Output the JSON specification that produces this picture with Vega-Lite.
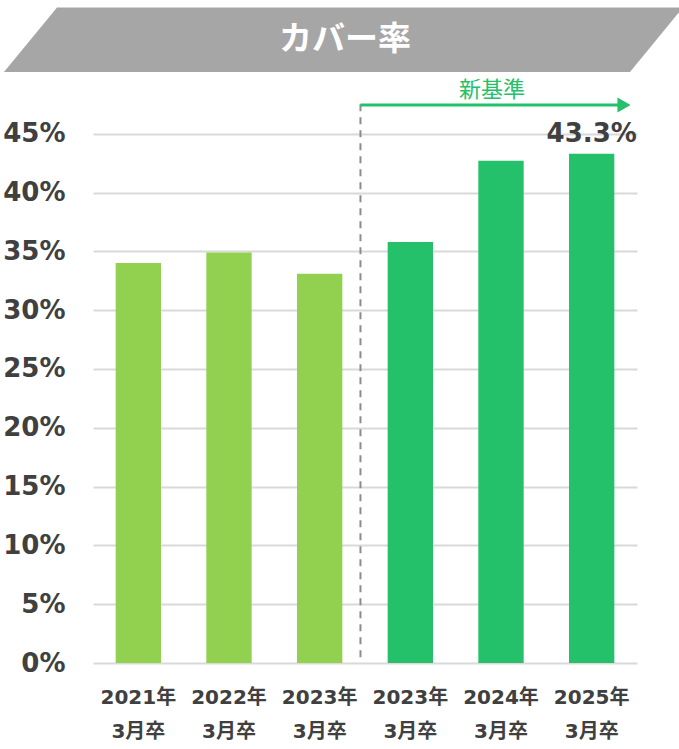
{
  "$schema": "https://vega.github.io/schema/vega-lite/v6.json",
  "width": 544,
  "height": 663,
  "autosize": {"type": "none"},
  "padding": {"left": 93, "top": 0, "right": 42, "bottom": 86},
  "background": "white",
  "config": {"view": {"stroke": null}},
  "layer": [
    {
      "data": {
        "values": [
          {"period": "2021年3月卒", "value": 0.340, "basis": "旧基準"},
          {"period": "2022年3月卒", "value": 0.349, "basis": "旧基準"},
          {"period": "2023年3月卒(旧)", "value": 0.331, "basis": "旧基準"},
          {"period": "2023年3月卒", "value": 0.358, "basis": "新基準"},
          {"period": "2024年3月卒", "value": 0.427, "basis": "新基準"},
          {"period": "2025年3月卒", "value": 0.433, "basis": "新基準"}
        ]
      },
      "encoding": {
        "x": {
          "field": "period",
          "type": "nominal",
          "sort": null,
          "scale": {"paddingInner": 0.5, "paddingOuter": 0.25},
          "axis": {
            "title": null,
            "labelAngle": 0,
            "domain": false,
            "ticks": false,
            "tickSize": 0,
            "grid": false,
            "labelExpr": "[slice(datum.value, 0, 5), slice(datum.value, 5, 8)]",
            "labelFont": "DejaVu Sans, Noto Sans CJK JP",
            "labelFontSize": 20,
            "labelFontWeight": "bold",
            "labelColor": "#404040",
            "labelBaseline": "top",
            "labelPadding": 24,
            "labelLineHeight": 34
          }
        },
        "y": {
          "field": "value",
          "type": "quantitative",
          "title": null,
          "scale": {"domain": [0, 0.5637], "nice": false, "zero": true},
          "axis": {
            "title": null,
            "values": [0, 0.05, 0.1, 0.15, 0.2, 0.25, 0.3, 0.35, 0.4, 0.45],
            "format": ".0%",
            "domain": false,
            "ticks": false,
            "tickSize": 0,
            "grid": true,
            "gridColor": "#d9d9d9",
            "gridWidth": 2,
            "labelFont": "DejaVu Sans",
            "labelFontSize": 26,
            "labelFontWeight": "bold",
            "labelColor": "#404040",
            "labelPadding": 28
          }
        }
      },
      "layer": [
        {
          "mark": {"type": "bar"},
          "encoding": {
            "color": {
              "field": "basis",
              "type": "nominal",
              "scale": {"domain": ["旧基準", "新基準"], "range": ["#92d050", "#24c06a"]},
              "legend": null
            }
          }
        },
        {
          "transform": [{"filter": "datum.period == '2025年3月卒'"}],
          "mark": {
            "type": "text",
            "dy": -12,
            "baseline": "alphabetic",
            "align": "center",
            "font": "DejaVu Sans",
            "fontSize": 26,
            "fontWeight": "bold",
            "color": "#404040"
          },
          "encoding": {
            "text": {"field": "value", "type": "quantitative", "format": ".1%"}
          }
        }
      ]
    },
    {
      "layer": [
        {
          "data": {
            "values": [
              {"xl": -0.397, "xr": 6.507, "y": 0.5573},
              {"xl": -0.982, "xr": 5.923, "y": 0.5025}
            ]
          },
          "mark": {"type": "area", "orient": "horizontal", "color": "#a6a6a6"},
          "encoding": {
            "y": {"field": "y", "type": "quantitative", "title": null, "scale": {"domain": [0, 0.5637], "nice": false}},
            "x": {"field": "xl", "type": "quantitative", "stack": null, "scale": {"domain": [0, 6], "nice": false, "zero": false}, "axis": null},
            "x2": {"field": "xr"}
          }
        },
        {
          "data": {"values": [{"x": 2.78, "y": 0.5297, "text": "カバー率"}]},
          "mark": {
            "type": "text",
            "align": "center",
            "baseline": "middle",
            "font": "Noto Sans CJK JP",
            "fontSize": 33,
            "fontWeight": "bold",
            "color": "white"
          },
          "encoding": {
            "x": {"field": "x", "type": "quantitative", "scale": {"domain": [0, 6], "nice": false, "zero": false}, "axis": null},
            "y": {"field": "y", "type": "quantitative", "title": null, "scale": {"domain": [0, 0.5637], "nice": false}},
            "text": {"field": "text"}
          }
        },
        {
          "data": {"values": [{"x": 2.95, "y": 0.475, "y2": 0.0}]},
          "mark": {"type": "rule", "color": "#8c8c8c", "strokeWidth": 2, "strokeDash": [7, 6]},
          "encoding": {
            "x": {"field": "x", "type": "quantitative", "scale": {"domain": [0, 6], "nice": false, "zero": false}, "axis": null},
            "y": {"field": "y", "type": "quantitative", "title": null, "scale": {"domain": [0, 0.5637], "nice": false}},
            "y2": {"field": "y2"}
          }
        },
        {
          "data": {"values": [{"x": 2.95, "x2": 5.80, "y": 0.4744}]},
          "mark": {"type": "rule", "color": "#24c06a", "strokeWidth": 3},
          "encoding": {
            "x": {"field": "x", "type": "quantitative", "scale": {"domain": [0, 6], "nice": false, "zero": false}, "axis": null},
            "x2": {"field": "x2"},
            "y": {"field": "y", "type": "quantitative", "title": null, "scale": {"domain": [0, 0.5637], "nice": false}}
          }
        },
        {
          "data": {"values": [{"x": 5.857, "y": 0.4744}]},
          "mark": {"type": "point", "shape": "triangle-right", "filled": true, "size": 230, "color": "#24c06a", "opacity": 1, "strokeWidth": 0},
          "encoding": {
            "x": {"field": "x", "type": "quantitative", "scale": {"domain": [0, 6], "nice": false, "zero": false}, "axis": null},
            "y": {"field": "y", "type": "quantitative", "title": null, "scale": {"domain": [0, 0.5637], "nice": false}}
          }
        },
        {
          "data": {"values": [{"x": 4.40, "y": 0.4876, "text": "新基準"}]},
          "mark": {
            "type": "text",
            "align": "center",
            "baseline": "middle",
            "font": "Noto Sans CJK JP",
            "fontSize": 22,
            "color": "#24c06a"
          },
          "encoding": {
            "x": {"field": "x", "type": "quantitative", "scale": {"domain": [0, 6], "nice": false, "zero": false}, "axis": null},
            "y": {"field": "y", "type": "quantitative", "title": null, "scale": {"domain": [0, 0.5637], "nice": false}},
            "text": {"field": "text"}
          }
        }
      ]
    }
  ],
  "resolve": {"scale": {"x": "independent"}}
}
